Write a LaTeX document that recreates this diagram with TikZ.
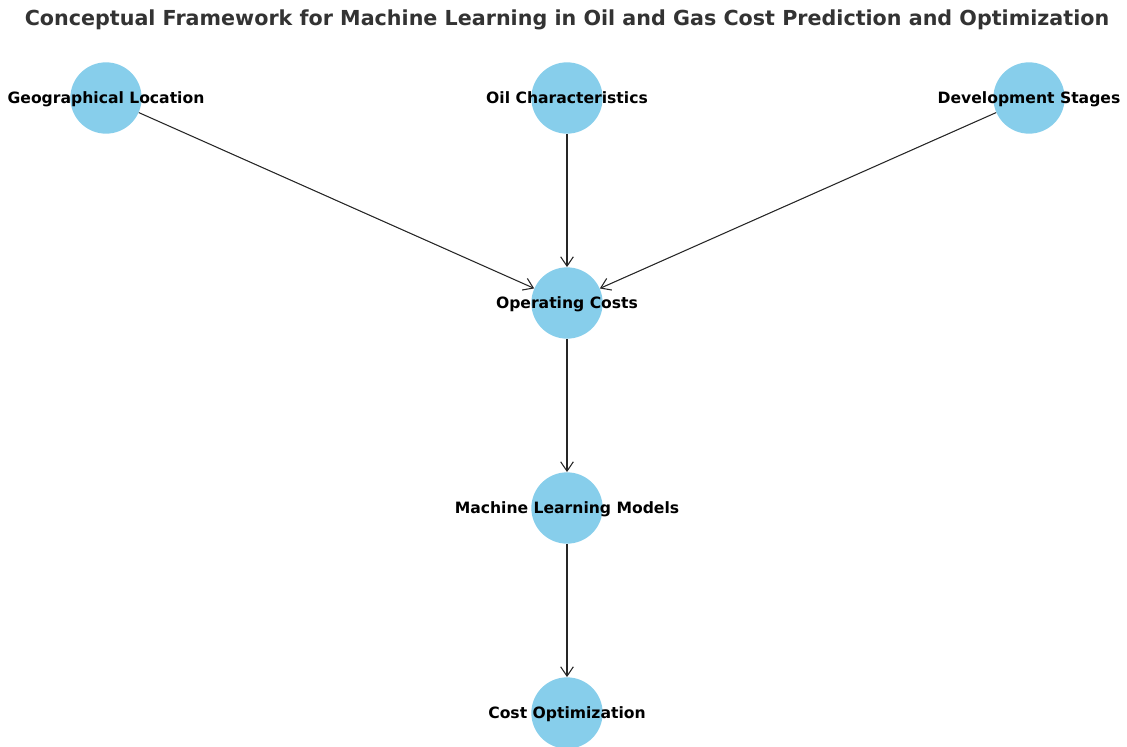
\documentclass[tikz,border=0pt]{standalone}
\usepackage{fontspec}
\setmainfont{DejaVu Sans}
\usetikzlibrary{arrows.meta}
\definecolor{skyblue}{HTML}{87CEEB}
\definecolor{titlegray}{HTML}{333333}
\tikzset{
    sky_node/.style = {circle, fill=skyblue, draw=none, minimum size=53.5pt, inner sep=0pt},
    node_text/.style = {font=\bfseries\fontsize{11.7pt}{14pt}\selectfont, text=black, inner sep=0pt,
        text height=8.8pt, text depth=2.6pt, yshift=-0.8pt},
    flow/.style = {-{Straight Barb[length=7pt,width=9.5pt,line width=0.8pt]}, line width=0.8pt, black!85}
}
\begin{document}
\begin{tikzpicture}[x=0.75pt, y=-0.75pt]
    \clip (0,0) rectangle (1127,746);

    \node [font=\bfseries\fontsize{15.5pt}{18pt}\selectfont, text=titlegray] (title) at (567,20)
        {Conceptual Framework for Machine Learning in Oil and Gas Cost Prediction and Optimization};

    % inputs
    \node [sky_node, label={[node_text]center:Geographical Location}] (geo) at (106,98) {};
    \node [sky_node, label={[node_text]center:Oil Characteristics}] (oil) at (567,98) {};
    \node [sky_node, label={[node_text]center:Development Stages}] (dev) at (1029,98) {};
    % chain
    \node [sky_node, label={[node_text]center:Operating Costs}] (opcost) at (567,303) {};
    \node [sky_node, label={[node_text]center:Machine Learning Models}] (mlmodel) at (567,508) {};
    \node [sky_node, label={[node_text]center:Cost Optimization}] (costopt) at (567,713) {};

    \draw [flow] (geo) -- (opcost);
    \draw [flow] (oil) -- (opcost);
    \draw [flow] (dev) -- (opcost);
    \draw [flow] (opcost) -- (mlmodel);
    \draw [flow] (mlmodel) -- (costopt);
\end{tikzpicture}
\end{document}
